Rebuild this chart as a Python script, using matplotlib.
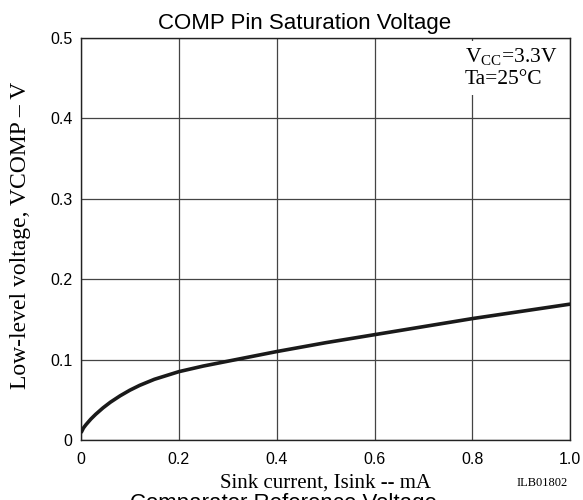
import numpy as np
import matplotlib.pyplot as plt

plt.rcParams['mathtext.fontset'] = 'custom'
plt.rcParams['mathtext.rm'] = 'Liberation Serif'

sink_ma = [0.0, 0.005, 0.01, 0.02, 0.03, 0.045, 0.06, 0.08, 0.1, 0.12, 0.15, 0.2,
           0.25, 0.3, 0.4, 0.5, 0.6, 0.7, 0.8, 0.9, 1.0]
vcomp = [0.009, 0.015, 0.019, 0.026, 0.032, 0.040, 0.047, 0.055, 0.062, 0.068, 0.0755, 0.085,
         0.092, 0.098, 0.110, 0.121, 0.131, 0.141, 0.151, 0.160, 0.169]

xticks = [0, 0.2, 0.4, 0.6, 0.8, 1.0]
xtick_labels = ['0', '0.2', '0.4', '0.6', '0.8', '1.0']
yticks = [0, 0.1, 0.2, 0.3, 0.4, 0.5]
ytick_labels = ['0', '0.1', '0.2', '0.3', '0.4', '0.5']

sans = 'Liberation Sans'
serif = 'Liberation Serif'

fig = plt.figure(figsize=(5.83, 5.0), dpi=100)
ax = fig.add_axes([0.139, 0.12, 0.839, 0.804])

ax.plot(sink_ma, vcomp, color='#1a1a1a', lw=2.6, zorder=3, solid_capstyle='butt')

ax.set_xlim(0, 1.0)
ax.set_ylim(0, 0.5)
ax.set_xticks(xticks)
ax.set_xticklabels(xtick_labels, fontfamily=sans, fontsize=11.5)
ax.set_yticks(yticks)
ax.set_yticklabels(ytick_labels, fontfamily=sans, fontsize=11.5)
ax.tick_params(axis='x', length=0, pad=9)
ax.tick_params(axis='y', length=0, pad=6)
ax.grid(True, color='#444444', lw=0.9)
for s in ax.spines.values():
    s.set_color('#222222')
    s.set_linewidth(1.0)

fig.text(0.559, 0.034, 'Sink current, Isink -- mA', fontfamily=serif, fontsize=15,
         ha='center', va='center')
fig.text(0.036, 0.53, 'Low-level voltage, VCOMP \u2013 V', fontfamily=serif, fontsize=17,
         ha='center', va='center', rotation=90)

fig.text(0.522, 0.943, 'COMP Pin Saturation Voltage', fontfamily=sans, fontsize=16,
         ha='center', va='baseline')

ax.text(0.785, 0.489, r'V$_{\mathrm{CC}}$=3.3V' + '\nTa=25\u00b0C', transform=ax.transData,
        fontfamily=serif, fontsize=15.5, ha='left', va='top', linespacing=1.12,
        bbox=dict(facecolor='white', edgecolor='none', pad=4), zorder=4)

fig.text(0.93, 0.028, 'ILB01802', fontfamily=serif, fontsize=9, ha='center', va='baseline')
fig.text(0.487, 0.014, 'Comparator Reference Voltage', fontfamily=sans, fontsize=16,
         ha='center', va='top')

fig.savefig('out.png', dpi=100)
